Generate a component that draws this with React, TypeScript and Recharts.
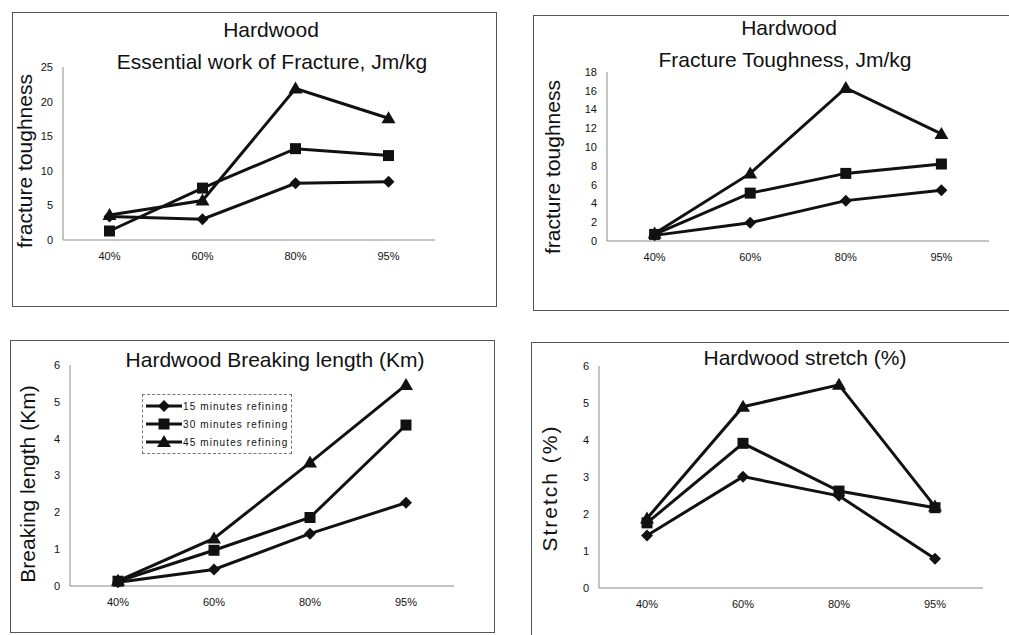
import React from "react";
import { LineChart, Line, XAxis, YAxis, Legend } from "recharts";

const categories = ["40%", "60%", "80%", "95%"];
const seriesNames = ["15 minutes refining", "30 minutes refining", "45 minutes refining"];
const seriesKeys = ["m15", "m30", "m45"];
const shapes = ["diamond", "square", "triangle"];

// essential work of fracture
const ewf15 = [3.4, 3.0, 8.2, 8.4];
const ewf30 = [1.3, 7.5, 13.2, 12.2];
const ewf45 = [3.6, 5.7, 21.9, 17.6];
const ewfTicks = [0, 5, 10, 15, 20, 25];

// fracture toughness
const ft15 = [0.6, 1.95, 4.3, 5.4];
const ft30 = [0.7, 5.1, 7.2, 8.2];
const ft45 = [0.8, 7.2, 16.3, 11.4];
const ftTicks = [0, 2, 4, 6, 8, 10, 12, 14, 16, 18];

// breaking length
const bl15 = [0.1, 0.45, 1.42, 2.26];
const bl30 = [0.13, 0.97, 1.86, 4.37];
const bl45 = [0.14, 1.29, 3.35, 5.46];
const blTicks = [0, 1, 2, 3, 4, 5, 6];

// stretch
const st15 = [1.42, 3.01, 2.49, 0.79];
const st30 = [1.76, 3.91, 2.62, 2.17];
const st45 = [1.88, 4.9, 5.49, 2.2];
const stTicks = [0, 1, 2, 3, 4, 5, 6];

const FONT = '"Liberation Sans", Arial, sans-serif';
const INK = "#111";

function rows(a: number[], b: number[], c: number[]) {
  return categories.map((cat, i) => ({ cat, m15: a[i], m30: b[i], m45: c[i] }));
}

function markerPath(shape: string, cx: number, cy: number) {
  if (shape === "diamond") return `M${cx},${cy - 6}L${cx + 6},${cy}L${cx},${cy + 6}L${cx - 6},${cy}Z`;
  if (shape === "square") return `M${cx - 5.5},${cy - 5.5}h11v11h-11Z`;
  return `M${cx},${cy - 7}L${cx + 7},${cy + 5}L${cx - 7},${cy + 5}Z`;
}

const makeDot = (shape: string) => (props: any) => {
  const { cx, cy, index } = props;
  if (cx == null || cy == null) return <g key={`${shape}-${index}`} />;
  return <path key={`${shape}-${index}`} d={markerPath(shape, cx, cy)} fill={INK} />;
};

const renderLegend = () => (
  <div
    style={{
      display: "inline-block",
      border: "1px dashed #777",
      background: "#fff",
      padding: "2px 3px",
      fontSize: 10,
      letterSpacing: 1.1,
      color: INK,
      fontFamily: FONT,
      whiteSpace: "nowrap",
      textAlign: "left",
    }}
  >
    {seriesNames.map((n, i) => (
      <div key={n} style={{ display: "flex", alignItems: "center", height: 18 }}>
        <svg width={36} height={14} style={{ flex: "none" }}>
          <line x1={0} y1={7} x2={36} y2={7} stroke={INK} strokeWidth={3} />
          <path d={markerPath(shapes[i], 18, 7)} fill={INK} />
        </svg>
        <span style={{ marginLeft: 1 }}>{n}</span>
      </div>
    ))}
  </div>
);

type Text = { text: string; x: number; y: number; spacing?: number };

interface PanelProps {
  left: number;
  top: number;
  width: number;
  height: number;
  border: string;
  margin: { top: number; right: number; bottom: number; left: number };
  yWidth: number;
  pad: number;
  ticks: number[];
  data: any[];
  titles: Text[];
  yLabel: Text;
  legend?: boolean;
}

function Panel(p: PanelProps) {
  const max = p.ticks[p.ticks.length - 1];
  return (
    <>
      <div
        style={{
          position: "absolute",
          left: p.left,
          top: p.top,
          width: p.width,
          height: p.height,
          borderStyle: "solid",
          borderColor: "#555",
          borderWidth: p.border,
          background: "#fff",
        }}
      >
        <LineChart width={p.width} height={p.height} data={p.data} margin={p.margin}>
          <XAxis
            dataKey="cat"
            padding={{ left: p.pad, right: p.pad }}
            stroke="#8a8a8a"
            tickLine={false}
            tickSize={6}
            tickMargin={6}
            tick={{ fill: INK, fontSize: 11, fontFamily: FONT }}
          />
          <YAxis
            width={p.yWidth}
            domain={[0, max]}
            ticks={p.ticks}
            interval={0}
            stroke="#8a8a8a"
            tickLine={false}
            tickSize={6}
            tickMargin={4}
            tick={{ fill: INK, fontSize: 11, fontFamily: FONT }}
          />
          {p.legend && (
            <Legend
              layout="vertical"
              align="center"
              verticalAlign="middle"
              content={renderLegend}
              wrapperStyle={{ left: 131, top: 53, width: 170 }}
            />
          )}
          {seriesKeys.map((k, i) => (
            <Line
              key={k}
              dataKey={k}
              name={seriesNames[i]}
              stroke={INK}
              strokeWidth={3}
              dot={makeDot(shapes[i])}
              activeDot={false}
              isAnimationActive={false}
            />
          ))}
        </LineChart>
      </div>
      {p.titles.map((t) => (
        <div
          key={t.text}
          style={{
            position: "absolute",
            left: t.x,
            top: t.y,
            transform: "translate(-50%, -50%)",
            whiteSpace: "nowrap",
            fontSize: 21,
            color: INK,
          }}
        >
          {t.text}
        </div>
      ))}
      <div
        style={{
          position: "absolute",
          left: p.yLabel.x,
          top: p.yLabel.y,
          transform: "translate(-50%, -50%) rotate(-90deg)",
          whiteSpace: "nowrap",
          fontSize: 21,
          letterSpacing: p.yLabel.spacing || 0,
          color: INK,
        }}
      >
        {p.yLabel.text}
      </div>
    </>
  );
}

export default function App() {
  return (
    <div
      style={{
        position: "absolute",
        left: 0,
        top: 0,
        width: 1009,
        height: 635,
        overflow: "hidden",
        background: "#fff",
        fontFamily: FONT,
      }}
    >
      <Panel
        left={12}
        top={12}
        width={483}
        height={293}
        border="1px"
        margin={{ top: 54, right: 61, bottom: 36, left: 0 }}
        yWidth={50}
        pad={46.5}
        ticks={ewfTicks}
        data={rows(ewf15, ewf30, ewf45)}
        titles={[
          { text: "Hardwood", x: 271, y: 30 },
          { text: "Essential work of Fracture, Jm/kg", x: 272, y: 62 },
        ]}
        yLabel={{ text: "fracture toughness", x: 25, y: 161 }}
      />
      <Panel
        left={533}
        top={15}
        width={476}
        height={294}
        border="1px 0 1px 1px"
        margin={{ top: 56, right: 21, bottom: 39, left: 0 }}
        yWidth={73}
        pad={47.6}
        ticks={ftTicks}
        data={rows(ft15, ft30, ft45)}
        titles={[
          { text: "Hardwood", x: 789, y: 28 },
          { text: "Fracture Toughness, Jm/kg", x: 785, y: 60 },
        ]}
        yLabel={{ text: "fracture toughness", x: 553, y: 167 }}
      />
      <Panel
        left={10}
        top={340}
        width={483}
        height={291}
        border="1px"
        margin={{ top: 24, right: 40, bottom: 16, left: 0 }}
        yWidth={59}
        pad={48}
        ticks={blTicks}
        data={rows(bl15, bl30, bl45)}
        titles={[{ text: "Hardwood Breaking length (Km)", x: 275, y: 360 }]}
        yLabel={{ text: "Breaking length (Km)", x: 28, y: 484 }}
        legend
      />
      <Panel
        left={531}
        top={342}
        width={478}
        height={293}
        border="1px 0 0 1px"
        margin={{ top: 23, right: 27, bottom: 18, left: 0 }}
        yWidth={67}
        pad={48}
        ticks={stTicks}
        data={rows(st15, st30, st45)}
        titles={[{ text: "Hardwood stretch (%)", x: 805, y: 358 }]}
        yLabel={{ text: "Stretch (%)", x: 550, y: 488, spacing: 2 }}
      />
    </div>
  );
}
